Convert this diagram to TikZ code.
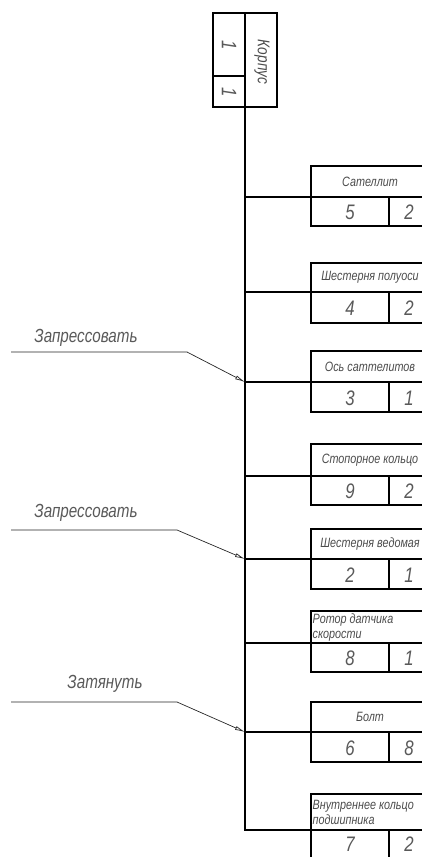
\documentclass[tikz,border=0pt]{standalone}
\usepackage{fontspec}
\newfontfamily\gost{Liberation Sans}[FakeStretch=0.8]
\usetikzlibrary{arrows.meta}

% one assembly item: name, top, divider, bottom, label, number, quantity
\newcommand\assyitem[7]{%
  \draw[frame] (311,#2) rectangle (432,#4);
  \draw[frame] (311,#3) -- (432,#3);
  \draw[frame] (389,#3) -- (389,#4);
  \node[lbl] (#1-lbl) at (370,{(#2+#3)/2}) {#5};
  \node[num] (#1-num) at (350,{(#3+#4)/2+1}) {#6};
  \node[num] (#1-qty) at (409,{(#3+#4)/2+1}) {#7};
  \coordinate (#1) at (311,#3);
  \coordinate (t-#1) at (245,#3);
}
% same, with a two-line label set flush left
\newcommand\assyitemwide[8]{%
  \draw[frame] (311,#2) rectangle (432,#4);
  \draw[frame] (311,#3) -- (432,#3);
  \draw[frame] (389,#3) -- (389,#4);
  \node[lbl, anchor=west, align=left, inner xsep=1.5pt] (#1-lbl) at (311,{(#2+#3)/2}) {#5};
  \node[num] (#1-num) at (350,#8) {#6};
  \node[num] (#1-qty) at (409,#8) {#7};
  \coordinate (#1) at (311,#3);
  \coordinate (t-#1) at (245,#3);
}

\begin{document}
\begin{tikzpicture}[x=1pt, y=-1pt,
  frame/.style={line width=1.5pt, black, line join=miter},
  lbl/.style={font=\gost\itshape\fontsize{13.5}{15}\selectfont, text=black!70, inner sep=0pt},
  num/.style={font=\gost\itshape\fontsize{21}{21}\selectfont, text=black!65, inner sep=0pt},
  note/.style={font=\gost\itshape\fontsize{19}{19}\selectfont, text=black!65, inner sep=0pt},
  lead/.style={line width=0.7pt, black!85},
  tipped/.style={-{Latex[open, length=10pt, width=4pt]}}]
\useasboundingbox (0,0) rectangle (422,857);
\clip (0,0) rectangle (422,857);

% base part
\draw[frame] (213,13) rectangle (277,107);
\draw[frame] (245,13) -- (245,107);
\draw[frame] (213,76) -- (245,76);
\node[num, rotate=-90] (base-num) at (229,45) {1};
\node[num, rotate=-90] (base-qty) at (229,92) {1};
\node[lbl, rotate=-90, font=\gost\itshape\fontsize{17}{17}\selectfont] (base-lbl) at (262,62) {Корпус};
\coordinate (root) at (245,107);

\assyitem{sat}{166}{197}{226}{Сателлит}{5}{2}
\assyitem{half}{263}{292}{323}{Шестерня полуоси}{4}{2}
\assyitem{axle}{351}{382}{412}{Ось саттелитов}{3}{1}
\assyitem{ring}{444}{476}{505}{Стопорное кольцо}{9}{2}
\assyitem{gear}{529}{559}{589}{Шестерня ведомая}{2}{1}
\assyitemwide{rotor}{611}{643}{672}{Ротор датчика\\скорости}{8}{1}{658}
\assyitem{bolt}{702}{732}{762}{Болт}{6}{8}
\assyitemwide{brg}{794}{830}{866}{Внутреннее кольцо\\подшипника}{7}{2}{844}

% trunk with its branches
\draw[frame] (root) -- (t-brg) -- (brg);
\foreach \n in {sat,half,axle,ring,gear,rotor,bolt}
  \draw[frame] (t-\n) -- (\n);

% assembly operations
\coordinate (a1) at (11,352);  \coordinate (k1) at (187,352);
\coordinate (a2) at (11,530);  \coordinate (k2) at (177,530);
\coordinate (a3) at (11,702);  \coordinate (k3) at (177,702);
\draw[lead, tipped] (a1) -- (k1) -- (t-axle);
\draw[lead, tipped] (a2) -- (k2) -- (t-gear);
\draw[lead, tipped] (a3) -- (k3) -- (t-bolt);
\node[note] (op1) at (86,338) {Запрессовать};
\node[note] (op2) at (86,513) {Запрессовать};
\node[note] (op3) at (105,684) {Затянуть};
\end{tikzpicture}
\end{document}
